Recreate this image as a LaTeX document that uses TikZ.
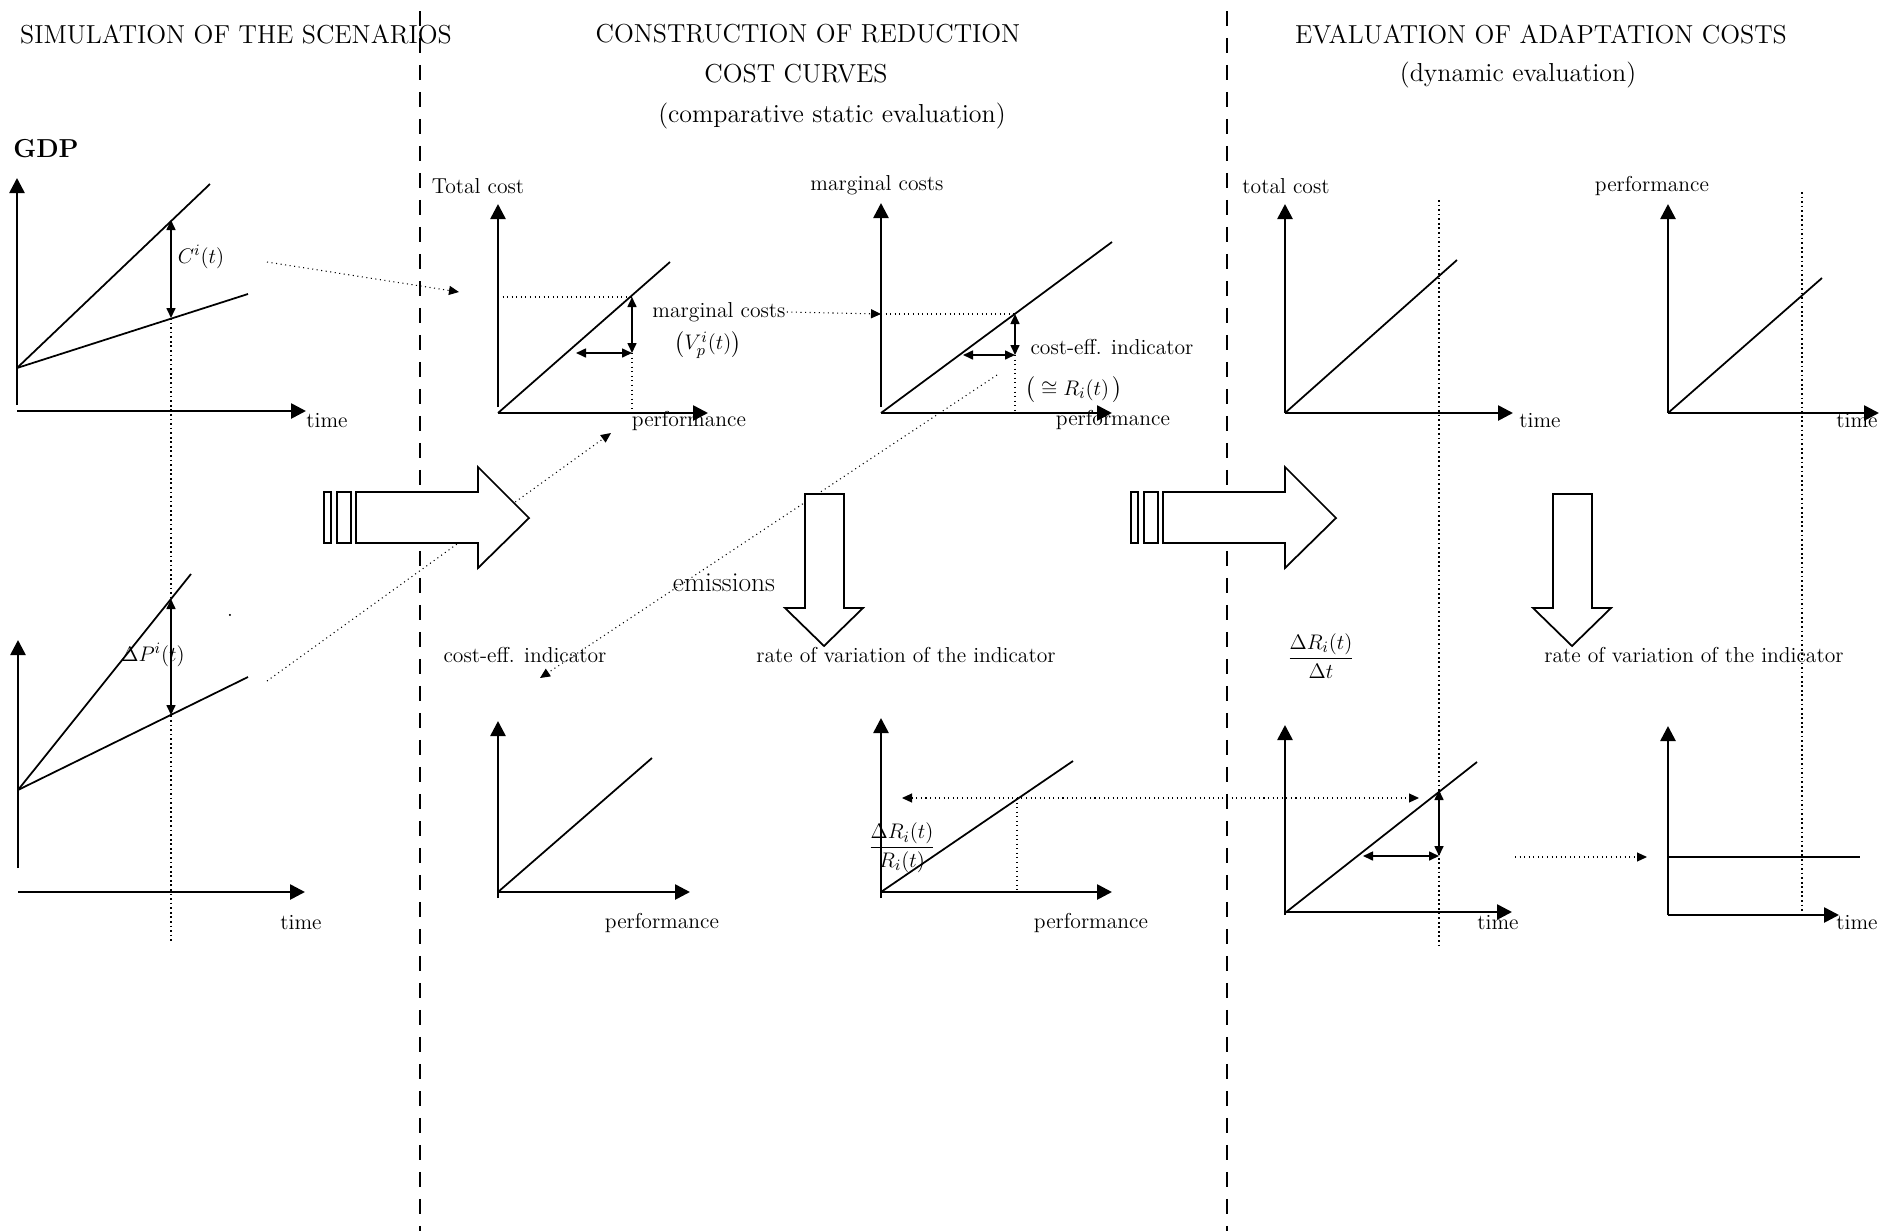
\documentclass[tikz,border=0pt]{standalone}
\usepackage{tikz}
\usetikzlibrary{arrows.meta}
\usepackage{amsmath}
\usepackage{amssymb}
\usepackage{xcolor}

\begin{document}
\begin{tikzpicture}[x=0.02cm,y=-0.02cm,
	axis/.style={line width=1.5pt,-{Triangle[length=3mm,width=3mm]}},
	curve/.style={line width=1pt},
	dbl/.style={line width=0.9pt,{Triangle[length=2mm,width=1.8mm]}-{Triangle[length=2mm,width=1.8mm]}},
	dots/.style={line width=0.6pt,dash pattern=on 0.6pt off 2pt},
	link/.style={dots,-{Triangle[length=2mm,width=1.8mm]}},
	guide/.style={line width=1pt,dash pattern=on 1pt off 1.6pt},
	sep/.style={line width=1.6pt,dash pattern=on 0.3cm off 0.24cm},
	block/.style={draw,fill=white,line width=1pt},
	lbl/.style={inner sep=0.5pt,font=\fontsize{12.3}{14.8}\selectfont},
	ttl/.style={inner sep=1pt,font=\fontsize{14.8}{17.8}\selectfont}]
\useasboundingbox (0,0) rectangle (1881,1231);
\par
% the three columns
	\draw[sep] (420,11) -- (420,1231);
	\draw[sep] (1227,11) -- (1227,1231);
	\node[ttl] (simtitle) at (236,34) {SIMULATION OF THE SCENARIOS};
	\node[ttl] (constitle) at (808,34) {CONSTRUCTION OF REDUCTION};
	\node[ttl] (curvtitle) at (796,74) {COST CURVES};
	\node[ttl] (comptitle) at (832,116) {(comparative static evaluation)};
	\node[ttl] (evaltitle) at (1541,34) {EVALUATION OF ADAPTATION COSTS};
	\node[ttl] (dyntitle) at (1518,75) {(dynamic evaluation)};
% end points of the dotted links
	\coordinate (gdpC) at (267,262);   \coordinate (tcIn) at (459,292);
	\coordinate (gdpP) at (267,681);   \coordinate (perfIn) at (611,433);
	\coordinate (ceOut) at (997,375);  \coordinate (ceIn) at (540,678);
	\coordinate (mcAxis) at (881,314); \coordinate (mcPt) at (1015,314);
	\coordinate (rateL) at (902,798);  \coordinate (rateR) at (1419,798);
	\coordinate (varOut) at (1515,857);\coordinate (varIn) at (1647,857);
	\draw[link] (gdpC) -- (tcIn);
	\draw[link] (gdpP) -- (perfIn);
	\draw[link] (ceOut) -- (ceIn);
	\draw[dots,{Triangle[length=2mm,width=1.8mm]}-{Triangle[length=2mm,width=1.8mm]}] (rateL) -- (rateR);
	\draw[link] (varOut) -- (varIn);
% big arrows
	\draw[block] (324,492) rectangle (331,543);
	\draw[block] (337,492) rectangle (351,543);
	\draw[block] (356,492) -- (478,492) -- (478,467) -- (529,518) -- (478,568) -- (478,543) -- (356,543) -- cycle;
	\draw[block] (1131,492) rectangle (1138,543);
	\draw[block] (1144,492) rectangle (1158,543);
	\draw[block] (1163,492) -- (1285,492) -- (1285,467) -- (1336,518) -- (1285,568) -- (1285,543) -- (1163,543) -- cycle;
	\draw[block] (805,494) -- (844,494) -- (844,608) -- (863,608) -- (824,646) -- (785,608) -- (805,608) -- cycle;
	\draw[block] (1553,494) -- (1592,494) -- (1592,608) -- (1611,608) -- (1572,646) -- (1533,608) -- (1553,608) -- cycle;
	\node[ttl,font=\fontsize{15.6}{18}\selectfont] (emis) at (724,583) {emissions};
% GDP
	\node[ttl,font=\fontsize{14.8}{17.8}\selectfont\bfseries] (gdp) at (46,149) {GDP};
	\draw[axis] (17,405) -- (17,178);
	\draw[axis] (17,411) -- (306,411);
	\draw[curve] (17,368) -- (210,184);
	\draw[curve] (17,368) -- (248,294);
	\draw[dbl] (171,220) -- (171,318);
	\draw[guide] (171,318) -- (171,942);
	\node[lbl] (cit) at (201,257) {$C^i(t)$};
	\node[lbl] (time1) at (327,421) {time};
% emissions of the scenarios
	\draw[axis] (18,868) -- (18,640);
	\draw[axis] (18,892) -- (305,892);
	\draw[curve] (18,790) -- (191,574);
	\draw[curve] (18,790) -- (248,677);
	\draw[dbl] (171,599) -- (171,715);
	\node[lbl] (dpit) at (153,655) {$\Delta P^i(t)$};
	\node[lbl] (dot) at (230,615) {.};
	\node[lbl] (time2) at (301,923) {time};
% total cost
	\node[lbl] (tc) at (478,186) {Total cost};
	\draw[axis] (498,407) -- (498,204);
	\draw[axis] (498,413) -- (708,413);
	\draw[curve] (498,413) -- (670,262);
	\draw[dots] (498,297) -- (632,297);
	\draw[dbl] (632,297) -- (632,353);
	\draw[dbl] (576,353) -- (632,353);
	\draw[dots] (632,353) -- (632,413);
	\node[lbl] (mcnote) at (719,312) {marginal costs};
	\node[lbl] (vpit) at (708,345) {$\left(V_p^i(t)\right)$};
	\node[lbl] (perf1) at (689,421) {performance};
% marginal costs
	\node[lbl] (mc) at (877,185) {marginal costs};
	\draw[axis] (881,407) -- (881,203);
	\draw[axis] (881,413) -- (1112,413);
	\draw[curve] (881,413) -- (1112,242);
	\draw[link] (mcnote.east) -- (mcAxis);
	\draw[dots] (mcAxis) -- (mcPt);
	\draw[dbl] (mcPt) -- (1015,355);
	\draw[dbl] (963,355) -- (1015,355);
	\draw[dots] (1015,355) -- (1015,413);
	\node[lbl] (cenote) at (1112,347) {cost-eff. indicator};
	\node[lbl] (rit) at (1074,390) {$\big(\cong R_i(t)\,\big)$};
	\node[lbl] (perf2) at (1113,420) {performance};
% cost-eff. indicator
	\node[lbl] (ce) at (525,655) {cost-eff. indicator};
	\draw[axis] (498,898) -- (498,721);
	\draw[axis] (498,892) -- (690,892);
	\draw[curve] (498,892) -- (652,758);
	\node[lbl] (perf3) at (662,923) {performance};
% rate of variation
	\node[lbl] (rate1) at (906,655) {rate of variation of the indicator};
	\draw[axis] (881,898) -- (881,718);
	\draw[axis] (881,892) -- (1112,892);
	\draw[curve] (881,892) -- (1073,761);
	\draw[dots] (1017,798) -- (1017,892);
	\node[lbl] (frac1) at (902,848) {$\dfrac{\Delta R_i(t)}{R_i(t)}$};
	\node[lbl] (perf4) at (1091,923) {performance};
% total cost over time
	\node[lbl] (tc2) at (1286,186) {total cost};
	\draw[axis] (1285,413) -- (1285,204);
	\draw[axis] (1285,413) -- (1513,413);
	\draw[curve] (1285,413) -- (1457,260);
	\draw[guide] (1439,200) -- (1439,948);
	\node[lbl] (time3) at (1540,421) {time};
% performance over time
	\node[lbl] (perf5) at (1652,186) {performance};
	\draw[axis] (1668,413) -- (1668,204);
	\draw[axis] (1668,413) -- (1879,413);
	\draw[curve] (1668,413) -- (1822,278);
	\draw[guide] (1802,192) -- (1802,918);
	\node[lbl] (time4) at (1857,421) {time};
% variation over time
	\node[lbl] (frac2) at (1321,656) {$\dfrac{\Delta R_i(t)}{\Delta t}$};
	\draw[axis] (1285,915) -- (1285,725);
	\draw[axis] (1285,912) -- (1512,912);
	\draw[curve] (1285,913) -- (1477,762);
	\draw[dbl] (1439,790) -- (1439,856);
	\draw[dbl] (1363,856) -- (1439,856);
	\node[lbl] (time5) at (1498,923) {time};
% rate of variation over time
	\node[lbl] (rate2) at (1694,655) {rate of variation of the indicator};
	\draw[axis] (1668,915) -- (1668,726);
	\draw[axis] (1668,915) -- (1839,915);
	\draw[curve] (1668,857) -- (1860,857);
	\node[lbl] (time6) at (1857,923) {time};
\end{tikzpicture}
\end{document}
